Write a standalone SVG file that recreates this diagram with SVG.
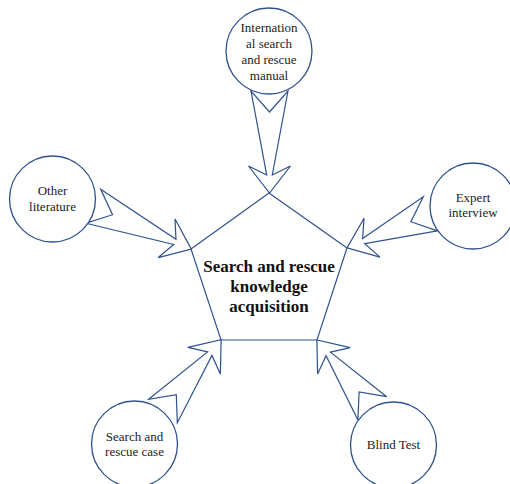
<svg xmlns="http://www.w3.org/2000/svg" width="510" height="484" viewBox="0 0 510 484">
<style>
.ln{fill:none;stroke:#2f528f;stroke-width:1.2;stroke-linejoin:miter}
.cir{fill:#fff;stroke:#2f528f;stroke-width:1.3}
.t{font-family:"Liberation Serif","Times New Roman",serif;font-size:13px;fill:#222;text-anchor:middle}
.tb{font-family:"Liberation Serif","Times New Roman",serif;font-size:17px;font-weight:bold;fill:#111;text-anchor:middle}
</style>
<rect width="510" height="484" fill="#fff"/>
<g id="connectors">
<path class="ln" transform="translate(269.5,91) rotate(90)" d="M0,-18.5 L84,-2.8 L75,-21 L102,0 L75,21 L84,2.8 L0,18.5 L21,0 Z"/>
<path class="ln" transform="translate(93.3,206.3) rotate(23.6)" d="M0,-18.5 L89,-2.8 L80,-21 L107,0 L80,21 L89,2.8 L0,18.5 L21,0 Z"/>
<path class="ln" transform="translate(430.3,213.8) rotate(157.7)" d="M0,-18.5 L72,-2.8 L63,-21 L90,0 L63,21 L72,2.8 L0,18.5 L21,0 Z"/>
<path class="ln" transform="translate(163,411) rotate(-50.8)" d="M0,-18.5 L74,-2.8 L65,-21 L92,0 L65,21 L74,2.8 L0,18.5 L21,0 Z"/>
<path class="ln" transform="translate(372.3,408.3) rotate(-129)" d="M0,-18.5 L70,-2.8 L61,-21 L88,0 L61,21 L70,2.8 L0,18.5 L21,0 Z"/>
</g>
<g id="center">
<polygon class="ln" points="269,193 347,248 317,340 221,340 191,249"/>
<text class="tb" x="269" y="272">Search and rescue</text>
<text class="tb" x="269" y="292">knowledge</text>
<text class="tb" x="269" y="312">acquisition</text>
</g>
<g id="manual">
<circle class="cir" cx="269" cy="51" r="43"/>
<text class="t" x="269" y="32">Internation</text>
<text class="t" x="269" y="48">al search</text>
<text class="t" x="269" y="63.5">and rescue</text>
<text class="t" x="269" y="79.5">manual</text>
</g>
<g id="literature">
<circle class="cir" cx="52.5" cy="199" r="43"/>
<text class="t" x="52.5" y="195">Other</text>
<text class="t" x="52.5" y="211">literature</text>
</g>
<g id="expert">
<circle class="cir" cx="473" cy="206" r="43"/>
<text class="t" x="473" y="202">Expert</text>
<text class="t" x="473" y="217">interview</text>
</g>
<g id="case">
<circle class="cir" cx="134.5" cy="444" r="43"/>
<text class="t" x="134.5" y="441">Search and</text>
<text class="t" x="134.5" y="456">rescue case</text>
</g>
<g id="blind">
<circle class="cir" cx="393.5" cy="445" r="43"/>
<text class="t" x="393.5" y="449">Blind Test</text>
</g>
</svg>
